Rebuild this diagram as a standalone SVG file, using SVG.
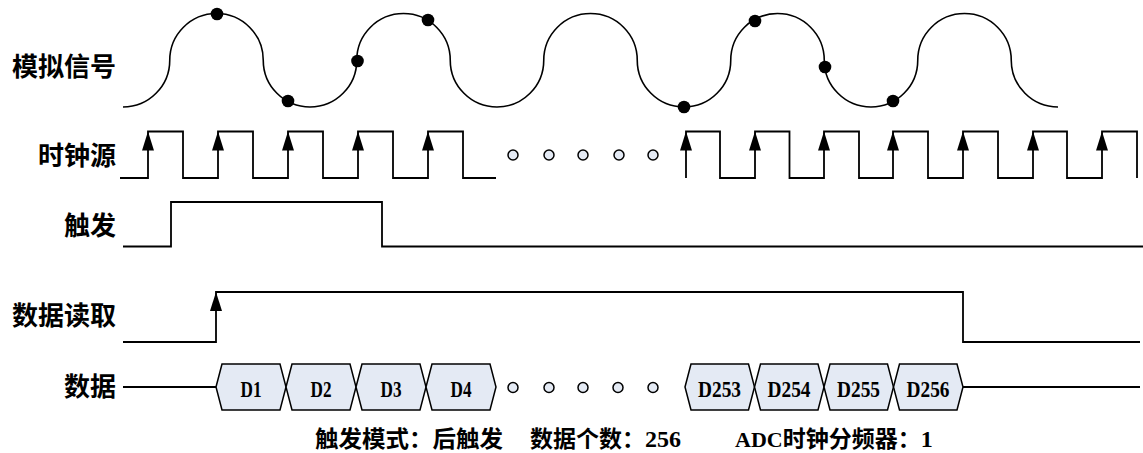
<svg xmlns="http://www.w3.org/2000/svg" xmlns:xlink="http://www.w3.org/1999/xlink" width="1143" height="453" viewBox="0 0 1143 453">
<style>
.w{fill:none;stroke:#000;stroke-width:1.8;stroke-linejoin:miter}
.sig{fill:none;stroke:#000;stroke-width:1.6}
.dot{fill:#000}
.hex{fill:#e4eaf4;stroke:#000;stroke-width:1.5}
.ell{fill:#e4eaf4;stroke:#000;stroke-width:1.5}
.lbl{font-family:"Noto Sans CJK SC","Liberation Sans",sans-serif;font-weight:bold;font-size:26px;text-anchor:end;fill:#000}
.dl{font-family:"Liberation Serif",serif;font-weight:bold;font-size:24px;text-anchor:middle;fill:#000}
.note{font-family:"Noto Sans CJK SC","Liberation Sans",sans-serif;font-weight:bold;font-size:23px;fill:#000}
.lat{font-family:"Liberation Serif",serif;font-weight:bold;font-size:24px}
</style>
<defs>
<path id="ah" d="M0,0 L6,19 L-6,19 Z" fill="#000"/>
</defs>
<g id="labels">
<text class="lbl" x="116" y="76">模拟信号</text>
<text class="lbl" x="116" y="164.5">时钟源</text>
<text class="lbl" x="116" y="235">触发</text>
<text class="lbl" x="116" y="324.5">数据读取</text>
<text class="lbl" x="116" y="396">数据</text>
</g>
<g id="analog-signal">
<path class="sig" d="M123,107 A46.75,46.75 0 0 0 169.75,60.25 A46.75,46.75 0 0 1 263.25,60.25 A46.75,46.75 0 0 0 356.75,60.25 A46.75,46.75 0 0 1 450.25,60.25 A46.75,46.75 0 0 0 543.75,60.25 A46.75,46.75 0 0 1 637.25,60.25 A46.75,46.75 0 0 0 730.75,60.25 A46.75,46.75 0 0 1 824.25,60.25 A46.75,46.75 0 0 0 917.75,60.25 A46.75,46.75 0 0 1 1011.25,60.25 A46.75,46.75 0 0 0 1058,107"/>
<circle class="dot" cx="217" cy="14" r="6.3"/>
<circle class="dot" cx="288" cy="101" r="6.3"/>
<circle class="dot" cx="357.5" cy="61" r="6.3"/>
<circle class="dot" cx="428" cy="20" r="6.3"/>
<circle class="dot" cx="684" cy="107" r="6.3"/>
<circle class="dot" cx="755" cy="21" r="6.3"/>
<circle class="dot" cx="825" cy="67" r="6.3"/>
<circle class="dot" cx="893" cy="101" r="6.3"/>
</g>
<g id="clock">
<path class="w" d="M120,178 H148 V131.5 H183 V178 H218 V131.5 H253 V178 H288 V131.5 H323 V178 H358 V131.5 H393 V178 H428 V131.5 H463 V178 H496"/>
<path class="w" d="M686,178 V131.5 H720 V178 H755 V131.5 H789.5 V178 H824 V131.5 H859 V178 H893 V131.5 H928 V178 H963 V131.5 H998 V178 H1033 V131.5 H1067 V178 H1102 V131.5 H1137 V178"/>
<use xlink:href="#ah" x="148" y="131.5"/>
<use xlink:href="#ah" x="218" y="131.5"/>
<use xlink:href="#ah" x="288" y="131.5"/>
<use xlink:href="#ah" x="358" y="131.5"/>
<use xlink:href="#ah" x="428" y="131.5"/>
<use xlink:href="#ah" x="686" y="131.5"/>
<use xlink:href="#ah" x="755" y="131.5"/>
<use xlink:href="#ah" x="824" y="131.5"/>
<use xlink:href="#ah" x="893" y="131.5"/>
<use xlink:href="#ah" x="963" y="131.5"/>
<use xlink:href="#ah" x="1033" y="131.5"/>
<use xlink:href="#ah" x="1102" y="131.5"/>
<circle class="ell" cx="513" cy="155" r="5"/>
<circle class="ell" cx="549" cy="155" r="5"/>
<circle class="ell" cx="583" cy="155" r="5"/>
<circle class="ell" cx="619" cy="155" r="5"/>
<circle class="ell" cx="653" cy="155" r="5"/>
</g>
<g id="trigger">
<path class="w" d="M123,246.5 H171 V202 H382 V246.5 H1143"/>
</g>
<g id="data-read">
<path class="w" d="M123,342 H216 V292 H963 V342 H1140"/>
<use xlink:href="#ah" x="216" y="292"/>
</g>
<g id="connectors">
<path class="w" d="M123,387 H216"/>
<path class="w" d="M963,387 H1140"/>
</g>
<g id="data">
<g id="d1"><polygon class="hex" points="216,387 222,364 280,364 286,387 280,410 222,410"/><text class="dl" x="251" y="396.5" textLength="21" lengthAdjust="spacingAndGlyphs">D1</text></g>
<g id="d2"><polygon class="hex" points="286,387 292,364 350,364 356,387 350,410 292,410"/><text class="dl" x="321" y="396.5" textLength="21" lengthAdjust="spacingAndGlyphs">D2</text></g>
<g id="d3"><polygon class="hex" points="356,387 362,364 420,364 426,387 420,410 362,410"/><text class="dl" x="391" y="396.5" textLength="21" lengthAdjust="spacingAndGlyphs">D3</text></g>
<g id="d4"><polygon class="hex" points="426,387 432,364 490,364 496,387 490,410 432,410"/><text class="dl" x="461" y="396.5" textLength="21" lengthAdjust="spacingAndGlyphs">D4</text></g>
<circle class="ell" cx="513" cy="387.5" r="5"/>
<circle class="ell" cx="549" cy="387.5" r="5"/>
<circle class="ell" cx="583" cy="387.5" r="5"/>
<circle class="ell" cx="618" cy="387.5" r="5"/>
<circle class="ell" cx="653" cy="387.5" r="5"/>
<g id="d253"><polygon class="hex" points="685,387 691,364 748.5,364 754.5,387 748.5,410 691,410"/><text class="dl" x="719.5" y="396.5" textLength="43" lengthAdjust="spacingAndGlyphs">D253</text></g>
<g id="d254"><polygon class="hex" points="754.5,387 760.5,364 818,364 824,387 818,410 760.5,410"/><text class="dl" x="789" y="396.5" textLength="43" lengthAdjust="spacingAndGlyphs">D254</text></g>
<g id="d255"><polygon class="hex" points="824,387 830,364 887.5,364 893.5,387 887.5,410 830,410"/><text class="dl" x="858.5" y="396.5" textLength="43" lengthAdjust="spacingAndGlyphs">D255</text></g>
<g id="d256"><polygon class="hex" points="893.5,387 899.5,364 957,364 963,387 957,410 899.5,410"/><text class="dl" x="928" y="396.5" textLength="43" lengthAdjust="spacingAndGlyphs">D256</text></g>
</g>
<g id="notes">
<text class="note" x="315" y="447" textLength="188" lengthAdjust="spacingAndGlyphs">触发模式：后触发</text>
<text class="note" x="530" y="447">数据个数：<tspan class="lat">256</tspan></text>
<text class="note" x="735" y="447"><tspan class="lat" style="font-size:22px">ADC</tspan>时钟分频器：<tspan class="lat">1</tspan></text>
</g>
</svg>
